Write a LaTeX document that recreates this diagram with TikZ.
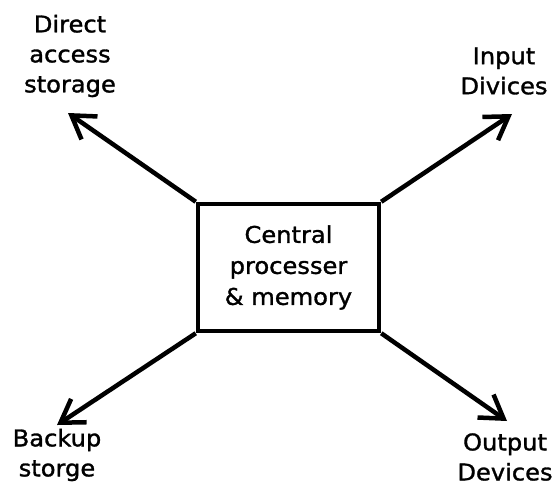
\documentclass[tikz,border=0pt]{standalone}
\usepackage{fontspec}
\setmainfont[FakeBold=1.3,FakeStretch=1.05]{DejaVu Sans}
\usetikzlibrary{arrows.meta}
\begin{document}
\begin{tikzpicture}[x=1pt,y=-1pt,
  lbl/.style={align=center,font=\fontsize{23}{30}\selectfont,inner sep=0pt},
  conn/.style={line width=4.5pt,-{Straight Barb[length=22pt,width=28pt]}},
  cpu/.style={draw,line width=4.5pt,minimum width=181pt,minimum height=127pt,inner sep=0pt,align=center,font=\fontsize{23}{31}\selectfont}]
\useasboundingbox (0,0) rectangle (554,488);
\node[cpu] (c) at (288.5,267.5) {Central\\processer\\\& memory};
\node[lbl] (das) at (70,56) {Direct\\access\\storage};
\node[lbl] (inp) at (504,71) {Input\\Divices};
\node[lbl] (bak) at (57,455) {Backup\\storge};
\node[lbl] (out) at (505,457) {Output\\Devices};
\coordinate (t1) at (68,113);
\coordinate (t2) at (512,114);
\coordinate (t3) at (57,425);
\coordinate (t4) at (507,421);
\draw[conn] (c.north west) -- (t1);
\draw[conn] (c.north east) -- (t2);
\draw[conn] (c.south west) -- (t3);
\draw[conn] (c.south east) -- (t4);
\end{tikzpicture}
\end{document}
